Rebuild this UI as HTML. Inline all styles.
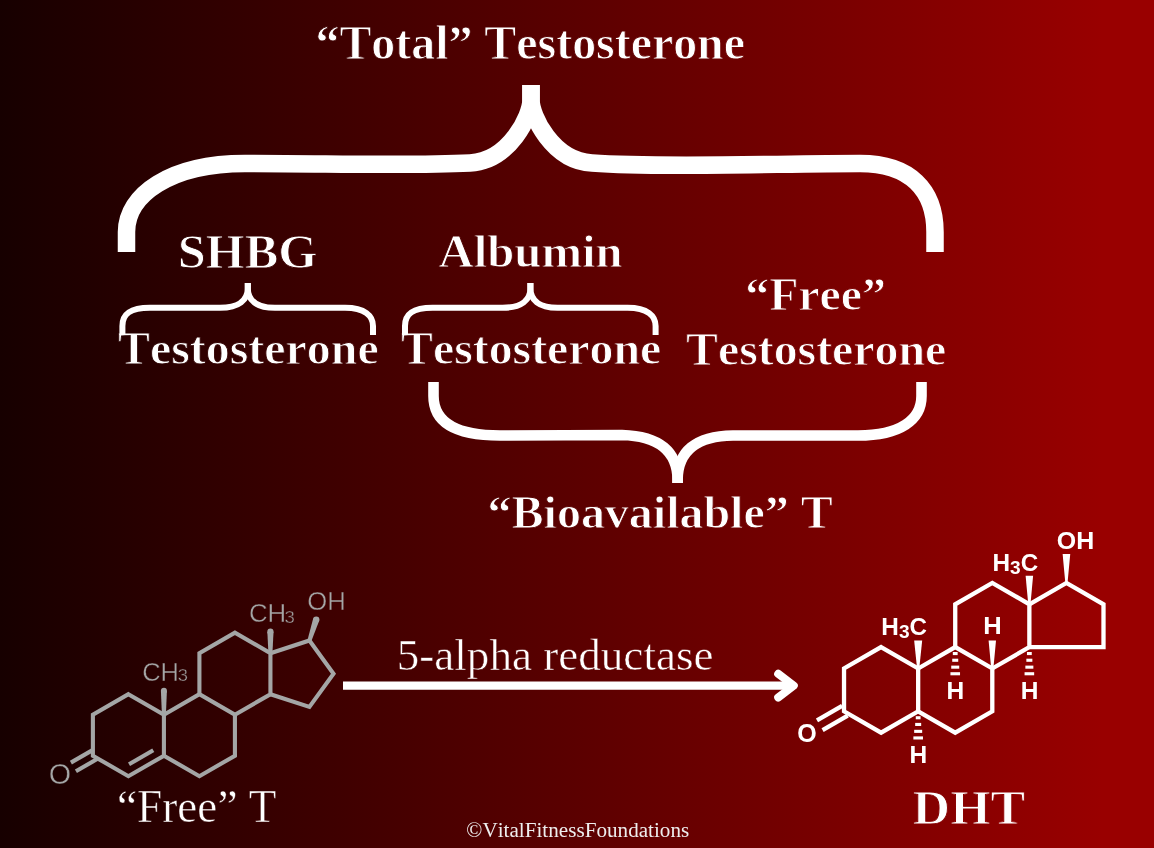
<!DOCTYPE html>
<html><head><meta charset="utf-8"><style>
html,body{margin:0;padding:0;width:1154px;height:848px;overflow:hidden;background:#170000}
svg{display:block;will-change:transform}
text{font-kerning:none;font-variant-ligatures:none}
</style></head><body>
<svg width="1154" height="848" viewBox="0 0 1154 848">
<defs><linearGradient id="bg" x1="0" y1="0" x2="1154" y2="0" gradientUnits="userSpaceOnUse"><stop offset="0" stop-color="#170000"/><stop offset="0.955" stop-color="#990000"/><stop offset="1" stop-color="#990000"/></linearGradient></defs>
<rect x="0" y="0" width="1154" height="848" fill="url(#bg)"/>
<text x="315.44" y="59.45" textLength="429.55" lengthAdjust="spacingAndGlyphs" font-family="'Liberation Serif', serif" font-weight="700" font-size="48.20" fill="#fff" stroke="url(#bg)" stroke-width="0.9">“Total” Testosterone</text>
<text x="177.67" y="267.75" textLength="139.75" lengthAdjust="spacingAndGlyphs" font-family="'Liberation Serif', serif" font-weight="700" font-size="47.80" fill="#fff" stroke="url(#bg)" stroke-width="0.9">SHBG</text>
<text x="438.57" y="267.25" textLength="184.11" lengthAdjust="spacingAndGlyphs" font-family="'Liberation Serif', serif" font-weight="700" font-size="45.50" fill="#fff" stroke="url(#bg)" stroke-width="0.9">Albumin</text>
<text x="118.00" y="364.45" textLength="260.69" lengthAdjust="spacingAndGlyphs" font-family="'Liberation Serif', serif" font-weight="700" font-size="47.00" fill="#fff" stroke="url(#bg)" stroke-width="0.9">Testosterone</text>
<text x="401.10" y="364.45" textLength="260.08" lengthAdjust="spacingAndGlyphs" font-family="'Liberation Serif', serif" font-weight="700" font-size="47.00" fill="#fff" stroke="url(#bg)" stroke-width="0.9">Testosterone</text>
<text x="745.24" y="310.45" textLength="140.76" lengthAdjust="spacingAndGlyphs" font-family="'Liberation Serif', serif" font-weight="700" font-size="45.60" fill="#fff" stroke="url(#bg)" stroke-width="0.9">“Free”</text>
<text x="686.10" y="365.05" textLength="260.08" lengthAdjust="spacingAndGlyphs" font-family="'Liberation Serif', serif" font-weight="700" font-size="47.00" fill="#fff" stroke="url(#bg)" stroke-width="0.9">Testosterone</text>
<text x="487.63" y="528.15" textLength="345.04" lengthAdjust="spacingAndGlyphs" font-family="'Liberation Serif', serif" font-weight="700" font-size="46.30" fill="#fff" stroke="url(#bg)" stroke-width="0.9">“Bioavailable” T</text>
<text x="116.99" y="822.25" textLength="159.41" lengthAdjust="spacingAndGlyphs" font-family="'Liberation Serif', serif" font-weight="400" font-size="45.80" fill="#fff" stroke="url(#bg)" stroke-width="0.5">“Free” T</text>
<text x="396.73" y="670.35" textLength="316.78" lengthAdjust="spacingAndGlyphs" font-family="'Liberation Serif', serif" font-weight="400" font-size="44.70" fill="#fff" stroke="url(#bg)" stroke-width="0.5">5-alpha reductase</text>
<text x="912.64" y="824.15" textLength="112.60" lengthAdjust="spacingAndGlyphs" font-family="'Liberation Serif', serif" font-weight="700" font-size="47.80" fill="#fff" stroke="url(#bg)" stroke-width="0.9">DHT</text>
<text x="466.39" y="837.20" textLength="222.87" lengthAdjust="spacingAndGlyphs" font-family="'Liberation Serif', serif" font-weight="400" font-size="20.50" fill="#eeeeee">©VitalFitnessFoundations</text>
<g fill="none" stroke="#ffffff" stroke-linecap="butt" stroke-linejoin="round">
<path stroke-width="17.5" d="M126.5 252 L126.5 232 C126.5 195 170 163.5 245 163.5 C330 163.5 410 166 470 163 C510 161 531 115 531 100 L531 85"/>
<path stroke-width="17.5" d="M531 85 L531 100 C531 115 552 161 592 163 C660 168 780 163.5 860 163.5 C910 163.5 935 190 935 232 L935 252"/>
<path stroke-width="10.6" d="M433.5 382 L433.5 396 C433.5 424 458 435.5 500 435.5 L622 435 C660 436 677.6 452 677.6 480 L677.6 483"/>
<path stroke-width="10.6" d="M677.6 483 L677.6 480 C677.6 452 695 436 733 435.5 L858 435.5 C900 435.5 921.5 420 921.5 396 L921.5 382"/>
<path stroke-width="6" d="M122.4 335 L122.4 326 C122.4 314 130 307.8 150 307.8 L220 307.8 C239 307.8 247.8 300 247.8 288 L247.8 283"/><path stroke-width="6" d="M247.8 283 L247.8 288 C247.8 300 256 307.8 275 307.8 L345 307.8 C365 307.8 373 316 373 326 L373 335"/>
<g transform="translate(282.6 0)"><path stroke-width="6" d="M122.4 335 L122.4 326 C122.4 314 130 307.8 150 307.8 L220 307.8 C239 307.8 247.8 300 247.8 288 L247.8 283"/><path stroke-width="6" d="M247.8 283 L247.8 288 C247.8 300 256 307.8 275 307.8 L345 307.8 C365 307.8 373 316 373 326 L373 335"/></g>
</g>
<g stroke="#ffffff" fill="none">
<line x1="343" y1="685.6" x2="792" y2="685.6" stroke-width="8.2"/>
<polyline points="778.2,673.8 793.8,685.6 778.2,697.5" stroke-width="8" stroke-linecap="round" stroke-linejoin="round"/>
</g>
<g fill="none" stroke="#a4a6a6" stroke-width="4.1" stroke-linejoin="miter" stroke-miterlimit="4">
<polygon points="128.40,694.20 163.91,714.70 163.91,755.70 128.40,776.20 92.89,755.70 92.89,714.70"/>
<polyline points="163.91,714.70 199.41,694.20 234.92,714.70 234.92,755.70 199.41,776.20 163.91,755.70"/>
<polyline points="199.41,694.20 199.41,653.20 234.92,632.70 270.43,653.20 270.43,694.20 234.92,714.70"/>
<polyline points="270.43,653.20 309.42,640.53 333.52,673.70 309.42,706.87 270.43,694.20"/>
<line x1="129.03" y1="764.29" x2="153.28" y2="750.29"/>
<line x1="97.56" y1="758.78" x2="75.91" y2="771.28"/>
<line x1="92.56" y1="750.12" x2="70.91" y2="762.62"/>
</g>
<polygon fill="#a4a6a6" points="165.91,714.70 166.91,690.70 160.91,690.70 161.91,714.70"/><circle cx="163.91" cy="690.70" r="3.0" fill="#a4a6a6"/>
<polygon fill="#a4a6a6" points="272.43,653.20 273.53,631.70 267.33,631.70 268.43,653.20"/><circle cx="270.43" cy="631.70" r="3.1" fill="#a4a6a6"/>
<polygon fill="#a4a6a6" points="311.32,641.15 319.26,620.60 313.18,618.62 307.52,639.91"/><circle cx="316.22" cy="619.61" r="3.2" fill="#a4a6a6"/>
<text x="142.21" y="680.50" textLength="36.77" lengthAdjust="spacingAndGlyphs" font-family="'Liberation Sans', sans-serif" font-weight="400" font-size="25.40" fill="#a4a6a6" stroke="url(#bg)" stroke-width="0.4">CH</text>
<text x="177.80" y="681.40" textLength="10.21" lengthAdjust="spacingAndGlyphs" font-family="'Liberation Sans', sans-serif" font-weight="400" font-size="17.30" fill="#a4a6a6" stroke="url(#bg)" stroke-width="0.4">3</text>
<text x="248.99" y="621.90" textLength="37.21" lengthAdjust="spacingAndGlyphs" font-family="'Liberation Sans', sans-serif" font-weight="400" font-size="25.40" fill="#a4a6a6" stroke="url(#bg)" stroke-width="0.4">CH</text>
<text x="284.59" y="623.40" textLength="10.32" lengthAdjust="spacingAndGlyphs" font-family="'Liberation Sans', sans-serif" font-weight="400" font-size="17.30" fill="#a4a6a6" stroke="url(#bg)" stroke-width="0.4">3</text>
<text x="307.18" y="609.50" textLength="38.51" lengthAdjust="spacingAndGlyphs" font-family="'Liberation Sans', sans-serif" font-weight="400" font-size="26.00" fill="#a4a6a6" stroke="url(#bg)" stroke-width="0.4">OH</text>
<text x="48.64" y="784.10" textLength="22.33" lengthAdjust="spacingAndGlyphs" font-family="'Liberation Sans', sans-serif" font-weight="400" font-size="28.90" fill="#a4a6a6" stroke="url(#bg)" stroke-width="0.4">O</text>
<g fill="none" stroke="#ffffff" stroke-width="4.3" stroke-linejoin="miter">
<polygon points="881.10,647.10 918.17,668.50 918.17,711.30 881.10,732.70 844.03,711.30 844.03,668.50"/>
<polyline points="918.17,668.50 955.23,647.10 992.30,668.50 992.30,711.30 955.23,732.70 918.17,711.30"/>
<polyline points="955.23,647.10 955.23,604.30 992.30,582.90 1029.36,604.30 1029.36,647.10 992.30,668.50"/>
<polyline points="1029.36,604.30 1066.43,582.90 1103.50,604.30 1103.50,647.10 1029.36,647.10"/>
<line x1="847.70" y1="715.65" x2="822.59" y2="730.15"/>
<line x1="842.10" y1="705.95" x2="816.99" y2="720.45"/>
</g>
<polygon fill="#ffffff" points="919.27,668.50 922.17,640.50 914.17,640.50 917.07,668.50"/>
<polygon fill="#ffffff" points="1030.46,604.30 1033.11,575.80 1025.61,575.80 1028.26,604.30"/>
<polygon fill="#ffffff" points="1067.53,582.90 1070.23,554.10 1062.63,554.10 1065.33,582.90"/>
<polygon fill="#ffffff" points="993.40,668.50 996.00,640.50 988.60,640.50 991.20,668.50"/>
<rect x="915.77" y="716.20" width="4.80" height="3.1" fill="#ffffff"/><rect x="915.17" y="722.90" width="6.00" height="3.1" fill="#ffffff"/><rect x="914.17" y="729.80" width="8.00" height="3.1" fill="#ffffff"/><rect x="913.37" y="736.40" width="9.60" height="3.1" fill="#ffffff"/>
<rect x="952.83" y="652.00" width="4.80" height="3.1" fill="#ffffff"/><rect x="952.23" y="658.70" width="6.00" height="3.1" fill="#ffffff"/><rect x="951.23" y="665.60" width="8.00" height="3.1" fill="#ffffff"/><rect x="950.43" y="672.20" width="9.60" height="3.1" fill="#ffffff"/>
<rect x="1026.96" y="652.00" width="4.80" height="3.1" fill="#ffffff"/><rect x="1026.36" y="658.70" width="6.00" height="3.1" fill="#ffffff"/><rect x="1025.36" y="665.60" width="8.00" height="3.1" fill="#ffffff"/><rect x="1024.56" y="672.20" width="9.60" height="3.1" fill="#ffffff"/>
<text x="881.34" y="634.70" textLength="17.57" lengthAdjust="spacingAndGlyphs" font-family="'Liberation Sans', sans-serif" font-weight="700" font-size="24.60" fill="#ffffff">H</text>
<text x="898.93" y="638.40" textLength="10.63" lengthAdjust="spacingAndGlyphs" font-family="'Liberation Sans', sans-serif" font-weight="700" font-size="18.50" fill="#ffffff">3</text>
<text x="909.57" y="634.90" textLength="17.45" lengthAdjust="spacingAndGlyphs" font-family="'Liberation Sans', sans-serif" font-weight="700" font-size="24.60" fill="#ffffff">C</text>
<text x="992.54" y="570.50" textLength="17.57" lengthAdjust="spacingAndGlyphs" font-family="'Liberation Sans', sans-serif" font-weight="700" font-size="24.60" fill="#ffffff">H</text>
<text x="1010.12" y="574.20" textLength="10.63" lengthAdjust="spacingAndGlyphs" font-family="'Liberation Sans', sans-serif" font-weight="700" font-size="18.50" fill="#ffffff">3</text>
<text x="1020.77" y="570.70" textLength="17.45" lengthAdjust="spacingAndGlyphs" font-family="'Liberation Sans', sans-serif" font-weight="700" font-size="24.60" fill="#ffffff">C</text>
<text x="1056.78" y="548.90" textLength="37.40" lengthAdjust="spacingAndGlyphs" font-family="'Liberation Sans', sans-serif" font-weight="700" font-size="24.60" fill="#ffffff">OH</text>
<text x="983.29" y="634.10" textLength="18.43" lengthAdjust="spacingAndGlyphs" font-family="'Liberation Sans', sans-serif" font-weight="700" font-size="24.60" fill="#ffffff">H</text>
<text x="946.49" y="698.60" textLength="17.69" lengthAdjust="spacingAndGlyphs" font-family="'Liberation Sans', sans-serif" font-weight="700" font-size="24.60" fill="#ffffff">H</text>
<text x="1020.63" y="698.60" textLength="17.69" lengthAdjust="spacingAndGlyphs" font-family="'Liberation Sans', sans-serif" font-weight="700" font-size="24.60" fill="#ffffff">H</text>
<text x="909.43" y="762.80" textLength="17.69" lengthAdjust="spacingAndGlyphs" font-family="'Liberation Sans', sans-serif" font-weight="700" font-size="24.60" fill="#ffffff">H</text>
<text x="797.17" y="741.80" textLength="19.48" lengthAdjust="spacingAndGlyphs" font-family="'Liberation Sans', sans-serif" font-weight="700" font-size="25.60" fill="#ffffff">O</text>
</svg>
</body></html>
